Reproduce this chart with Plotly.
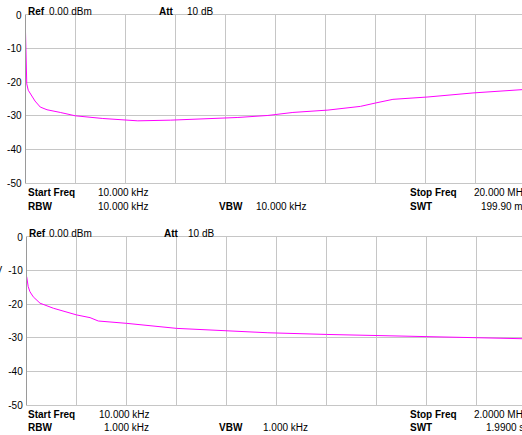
import plotly.graph_objects as go

W, H = 522, 435

# ---------------- data ----------------
# upper sweep: 10 kHz .. 20 MHz, RBW 10 kHz (frequency in MHz, level in dBm)
top_freq = [0.01, 0.02, 0.035, 0.06, 0.12, 0.26, 0.39, 0.6, 0.87, 1.4, 2.0, 3.1,
            4.5, 5.8, 7.1, 8.5, 9.7, 10.7, 12.1, 13.4, 14.0, 14.7, 16.1, 17.9, 19.9, 20.0]
top_level = [-5.0, -12.4, -19.0, -20.5, -22.4, -24.2, -25.6, -27.4, -28.2, -29.0, -30.0, -30.8,
             -31.5, -31.3, -31.0, -30.5, -29.9, -29.0, -28.3, -27.2, -26.2, -25.1, -24.4, -23.2, -22.2, -22.1]

# lower sweep: 10 kHz .. 2 MHz, RBW 1 kHz
bot_freq = [0.01, 0.016, 0.023, 0.036, 0.063, 0.116, 0.209, 0.262, 0.295, 0.408, 0.607,
            0.806, 0.970, 1.204, 1.403, 1.602, 1.801, 1.980, 2.0]
bot_level = [-11.8, -14.8, -16.3, -17.8, -19.7, -21.2, -23.2, -24.0, -25.0, -25.7, -27.2,
             -28.0, -28.5, -29.0, -29.3, -29.7, -30.0, -30.2, -30.3]

y_ticks = [0, -10, -20, -30, -40, -50]
y_tick_text = ["0", "-10", "-20", "-30", "-40", "-50"]

top_header = ["Ref", "0.00 dBm", "Att", "10 dB"]
bot_header = ["Ref", "0.00 dBm", "Att", "10 dB"]
top_footer = [["Start Freq", "10.000 kHz", "", "", "Stop Freq", "20.000 MHz"],
              ["RBW", "10.000 kHz", "VBW", "10.000 kHz", "SWT", "199.90 ms"]]
bot_footer = [["Start Freq", "10.000 kHz", "", "", "Stop Freq", "2.0000 MHz"],
              ["RBW", "1.000 kHz", "VBW", "1.000 kHz", "SWT", "1.9900 s"]]

# sweep settings (MHz)
top_start, top_stop = 0.01, 20.0
bot_start, bot_stop = 0.01, 2.0

# ---------------- layout helpers ----------------
def px(x):
    return x / W

def py(y):
    return 1 - y / H

TOP_L, BOT_L = 25.5, 26.7   # left edge of each plot in px
DIV_PX = 50.0               # px per horizontal division

def visible_range(start, stop, left):
    span = stop - start
    return [start, start + (W - left) / (10 * DIV_PX) * span]

fig = go.Figure()
fig.add_trace(go.Scatter(x=top_freq, y=top_level, mode="lines",
                         line=dict(color="#ff00ff", width=1), xaxis="x", yaxis="y",
                         showlegend=False, hoverinfo="skip"))
fig.add_trace(go.Scatter(x=bot_freq, y=bot_level, mode="lines",
                         line=dict(color="#ff00ff", width=1), xaxis="x2", yaxis="y2",
                         showlegend=False, hoverinfo="skip"))

grid = "#c6c6c6"
axis_common = dict(showgrid=True, gridcolor=grid, gridwidth=1, zeroline=False,
                   showline=True, linecolor=grid, linewidth=1, mirror=True,
                   automargin=False)

xcommon = dict(axis_common, showticklabels=False, ticks="")
fig.update_layout(
    width=W, height=H, autosize=False,
    margin=dict(l=0, r=0, t=0, b=0, pad=0, autoexpand=False),
    paper_bgcolor="white", plot_bgcolor="white",
    font=dict(family="Liberation Sans, Arial, sans-serif", size=10, color="black"),
    xaxis=dict(xcommon, domain=[px(TOP_L), 1], anchor="y",
               range=visible_range(top_start, top_stop, TOP_L),
               tick0=top_start, dtick=(top_stop - top_start) / 10),
    xaxis2=dict(xcommon, domain=[px(BOT_L), 1], anchor="y2",
                range=visible_range(bot_start, bot_stop, BOT_L),
                tick0=bot_start, dtick=(bot_stop - bot_start) / 10),
    yaxis=dict(axis_common, domain=[py(183), py(15)], anchor="x", range=[-50, 0],
               tickvals=y_ticks, ticktext=y_tick_text, ticks="", ticklabelstandoff=1,
               tickfont=dict(size=10, color="black")),
    yaxis2=dict(axis_common, domain=[py(405), py(237)], anchor="x2", range=[-50, 0],
                tickvals=y_ticks, ticktext=y_tick_text, ticks="", ticklabelstandoff=1,
                tickfont=dict(size=10, color="black")),
)
fig.update_yaxes(linecolor="#9a9a9a")

annotations = []

def add_text(text, x, y, bold=False, anchor="left"):
    annotations.append(dict(
        text=f"<b>{text}</b>" if bold else text,
        x=px(x), y=py(y), xref="paper", yref="paper",
        xanchor=anchor, yanchor="middle", showarrow=False, borderpad=0,
        font=dict(size=10, color="black")))

# headers
add_text(top_header[0], 26.7, 11, bold=True)
add_text(top_header[1], 47.7, 11)
add_text(top_header[2], 158, 11, bold=True)
add_text(top_header[3], 185.7, 11)

add_text(bot_header[0], 28.3, 233, bold=True)
add_text(bot_header[1], 48.3, 233)
add_text(bot_header[2], 163, 233, bold=True)
add_text(bot_header[3], 187, 233)

# footers
col_x_top = [[26.7, 96.7, 218, 255, 409, 473], [26.7, 97, 218, 255, 409, 480]]
col_x_bot = [[26.7, 98, 218, 262, 409, 473], [26.7, 103, 218, 262, 409, 485]]
row_y_top = [192, 206]
row_y_bot = [414, 427]
for footer, cols, rows in [(top_footer, col_x_top, row_y_top), (bot_footer, col_x_bot, row_y_bot)]:
    for r, row in enumerate(footer):
        for c, t in enumerate(row):
            if t:
                add_text(t, cols[r][c], rows[r], bold=(c % 2 == 0))

# clipped side label fragment at far left of lower panel
add_text("1AV", 3, 270, anchor="right")

fig.update_layout(annotations=annotations)
fig.write_html(
    "out.html",
    config={"displayModeBar": False, "responsive": False},
    post_script=("document.body.style.margin='0';"
                 "document.body.style.overflow='hidden';"
                 "document.documentElement.style.overflow='hidden';"),
)
